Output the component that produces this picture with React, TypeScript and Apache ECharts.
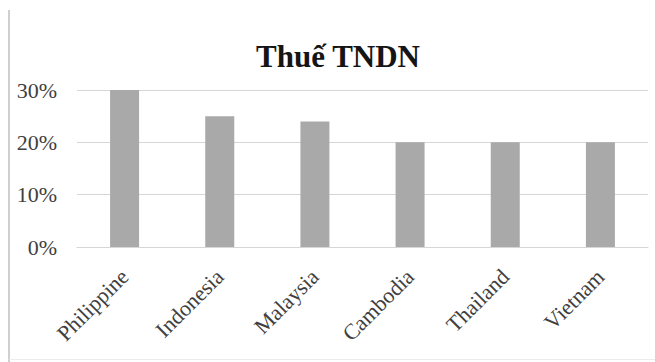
import React, { useEffect, useRef } from "react";
import * as echarts from "echarts";

const countries = ["Philippine", "Indonesia", "Malaysia", "Cambodia", "Thailand", "Vietnam"];
const taxRates = [0.3, 0.25, 0.24, 0.2, 0.2, 0.2];
const chartTitle = "Thuế TNDN";

const serif = "'Liberation Serif', 'Times New Roman', serif";

export default function App() {
  const ref = useRef<HTMLDivElement>(null);

  useEffect(() => {
    if (!ref.current) return;
    const chart = echarts.init(ref.current, undefined, { renderer: "svg" });
    chart.setOption({
      animation: false,
      backgroundColor: "#ffffff",
      title: {
        text: chartTitle,
        left: 333,
        top: 36,
        textAlign: "center",
        textStyle: { fontFamily: serif, fontSize: 31, fontWeight: "bold", color: "#151515" },
      },
      grid: { left: 77, right: 7, top: 90, bottom: 115 },
      xAxis: {
        type: "category",
        data: countries,
        axisLine: { show: true, lineStyle: { color: "#d6d6d6", width: 1 } },
        axisTick: { show: false },
        axisLabel: {
          rotate: 45,
          interval: 0,
          margin: 26,
          fontFamily: serif,
          fontSize: 22,
          color: "#404040",
        },
      },
      yAxis: {
        type: "value",
        min: 0,
        max: 0.3,
        interval: 0.1,
        axisLine: { show: false },
        axisTick: { show: false },
        splitLine: { lineStyle: { color: "#d6d6d6", width: 1 } },
        axisLabel: {
          margin: 20,
          fontFamily: serif,
          fontSize: 22,
          color: "#404040",
          formatter: (v: number) => `${Math.round(v * 100)}%`,
        },
      },
      series: [
        {
          type: "bar",
          data: taxRates,
          barWidth: 29,
          itemStyle: { color: "#a9a9a9" },
        },
      ],
      graphic: [
        { type: "line", shape: { x1: 9, y1: 10, x2: 9, y2: 362 }, style: { stroke: "#cfcfcf", lineWidth: 2 } },
        { type: "line", shape: { x1: 9, y1: 359.5, x2: 655, y2: 359.5 }, style: { stroke: "#ececec", lineWidth: 1 } },
      ],
    });
    return () => chart.dispose();
  }, []);

  return (
    <div
      ref={ref}
      style={{ position: "absolute", left: 0, top: 0, width: 655, height: 362 }}
    />
  );
}
